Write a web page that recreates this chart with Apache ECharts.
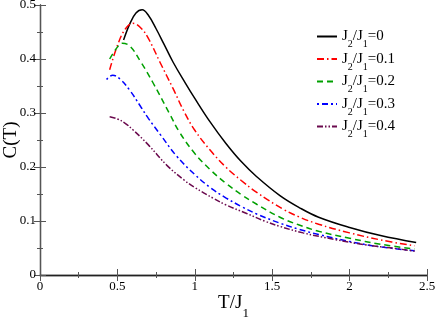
<!DOCTYPE html>
<html><head><meta charset="utf-8">
<script src="https://cdn.jsdelivr.net/npm/echarts@6/dist/echarts.min.js"></script>
<style>html,body{margin:0;padding:0;background:#fff}#c{width:436px;height:317px}</style>
</head><body><div id="c"></div>
<script>
var xTicks = [0, 0.5, 1, 1.5, 2, 2.5];
var yTicks = [0, 0.1, 0.2, 0.3, 0.4, 0.5];
var names = ['J2/J1=0', 'J2/J1=0.1', 'J2/J1=0.2', 'J2/J1=0.3', 'J2/J1=0.4'];
var j0 = [[0.54,0.435],[0.58,0.465],[0.62,0.485],[0.66,0.491],[0.70,0.481],[0.75,0.456],[0.80,0.428],[0.86,0.394],[0.94,0.355],[1.0,0.327],[1.1,0.283],[1.2,0.244],[1.3,0.21],[1.4,0.182],[1.55,0.147],[1.68,0.124],[1.8,0.107],[2.0,0.088],[2.2,0.073],[2.43,0.060]];
var j1 = [[0.45,0.38],[0.50,0.425],[0.55,0.455],[0.60,0.466],[0.65,0.458],[0.70,0.438],[0.775,0.394],[0.86,0.345],[0.93,0.303],[1.0,0.268],[1.1,0.231],[1.2,0.2],[1.3,0.175],[1.4,0.153],[1.57,0.122],[1.67,0.108],[1.8,0.094],[2.0,0.078],[2.2,0.065],[2.42,0.054]];
var j2 = [[0.45,0.40],[0.50,0.422],[0.53,0.429],[0.58,0.424],[0.65,0.395],[0.73,0.356],[0.84,0.297],[0.90,0.265],[1.0,0.225],[1.1,0.195],[1.2,0.17],[1.3,0.149],[1.4,0.131],[1.55,0.107],[1.67,0.093],[1.8,0.081],[2.0,0.068],[2.2,0.057],[2.42,0.048]];
var j3 = [[0.43,0.362],[0.47,0.37],[0.52,0.362],[0.58,0.342],[0.65,0.312],[0.70,0.29],[0.78,0.259],[0.88,0.221],[1.0,0.186],[1.1,0.162],[1.2,0.143],[1.3,0.127],[1.4,0.113],[1.55,0.096],[1.67,0.085],[1.8,0.075],[2.0,0.062],[2.2,0.052],[2.42,0.045]];
var j4 = [[0.45,0.293],[0.50,0.289],[0.55,0.281],[0.60,0.269],[0.70,0.241],[0.82,0.203],[0.93,0.176],[1.0,0.162],[1.12,0.142],[1.2,0.13],[1.335,0.114],[1.45,0.1],[1.55,0.09],[1.7,0.078],[1.9,0.066],[2.1,0.056],[2.3,0.049],[2.42,0.044]];
var dataSets = [j0, j1, j2, j3, j4];
var colors = ['#000000', '#ff0000', '#00a000', '#0000ff', '#6b0a4e'];
var dashes = ['solid', [7,3,1.5,3], [6,4], [2,3,6,3], [6,2,1.5,2,1.5,2]];
var font = 'Liberation Serif';
var chart = echarts.init(document.getElementById('c'), null, {renderer:'canvas'});
var series = dataSets.map(function(d, i){
  return {name: names[i], type:'line', data:d, smooth:0.4, symbol:'none',
    lineStyle:{color:colors[i], width:1.5, type:dashes[i]}, itemStyle:{color:colors[i]}};
});
var axisLine = {lineStyle:{color:'#555', width:1.3}};
var rich = {
  m:{fontFamily:font, fontSize:15, color:'#000', lineHeight:18, verticalAlign:'middle'},
  s:{fontFamily:font, fontSize:10, color:'#000', lineHeight:18, verticalAlign:'bottom', padding:[0,0,-4,0]}
};
chart.setOption({
  animation:false,
  grid:{left:40, right:9, top:5, bottom:42, containLabel:false, outerBoundsMode:'none'},
  legend:{
    show:true, orient:'vertical', left:311, top:24, itemGap:2, itemWidth:20, itemHeight:14,
    data:names,
    itemStyle:{opacity:0},
    formatter:function(n){
      var v = n.split('=')[1];
      return '{m|J}{s|2}{m|/J}{s|1}{m|=' + v + '}';
    },
    textStyle:{rich:rich, fontFamily:font, fontSize:15}
  },
  xAxis:[{
    type:'value', min:0, max:2.5, interval:0.5, position:'bottom',
    axisLine:axisLine, splitLine:{show:false},
    axisTick:{inside:true, length:6, lineStyle:{color:'#555'}},
    minorTick:{show:true, splitNumber:2, length:3, lineStyle:{color:'#555'}},
    axisLabel:{fontFamily:font, fontSize:13, color:'#000', margin:5,
      formatter:function(v){return xTicks.indexOf(v)>=0 ? String(v) : '';}},
    name:'{m|T/J}{s|1}', nameLocation:'middle', nameGap:17, nameMoveOverlap:false,
    nameTextStyle:{rich:{m:{fontFamily:font, fontSize:19, color:'#000', lineHeight:22, verticalAlign:'middle'}, s:{fontFamily:font, fontSize:13, color:'#000', lineHeight:22, verticalAlign:'bottom', padding:[0,0,-6,0]}}}
  },{
    type:'value', min:0, max:2.5, interval:0.5, position:'top',
    axisLine:{lineStyle:{color:'#222', width:1.3}}, splitLine:{show:false},
    axisTick:{inside:true, length:6, lineStyle:{color:'#555'}},
    minorTick:{show:true, splitNumber:2, length:3, lineStyle:{color:'#555'}},
    axisLabel:{show:false}
  }],
  yAxis:[{
    type:'value', min:0, max:0.5, interval:0.1, position:'left',
    axisLine:axisLine, splitLine:{show:false},
    axisTick:{inside:true, length:6, lineStyle:{color:'#555'}},
    minorTick:{show:true, splitNumber:2, length:3, lineStyle:{color:'#555'}},
    axisLabel:{fontFamily:font, fontSize:13, color:'#000', margin:4,
      formatter:function(v){return yTicks.indexOf(Math.round(v*10)/10)>=0 ? String(Math.round(v*10)/10) : '';}},
    name:'C(T)', nameLocation:'middle', nameGap:19, nameRotate:90, nameMoveOverlap:false,
    nameTextStyle:{fontFamily:font, fontSize:19, color:'#000'}
  },{
    type:'value', min:0, max:0.5, interval:0.1, position:'right',
    axisLine:axisLine, splitLine:{show:false},
    axisTick:{inside:true, length:6, lineStyle:{color:'#555'}},
    minorTick:{show:true, splitNumber:2, length:3, lineStyle:{color:'#555'}},
    axisLabel:{show:false}
  }],
  series:series
});
</script></body></html>
